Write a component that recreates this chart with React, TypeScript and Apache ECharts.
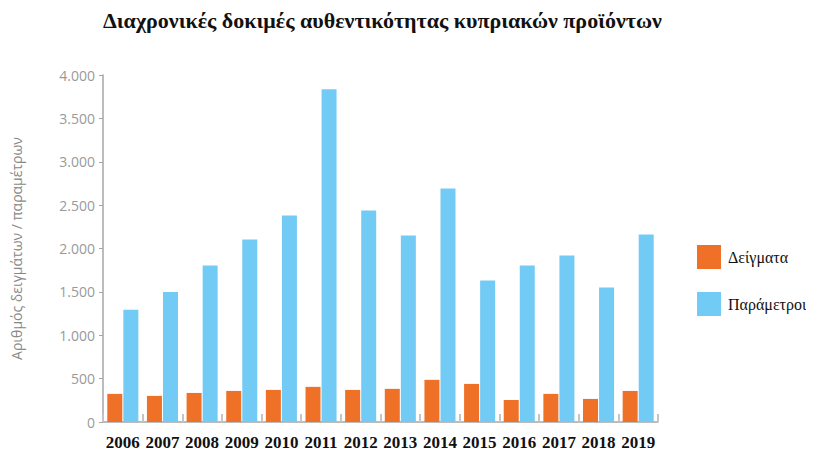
import React, { useEffect, useRef } from "react";
import * as echarts from "echarts";

const years = ["2006","2007","2008","2009","2010","2011","2012","2013","2014","2015","2016","2017","2018","2019"];
const samples = [324, 301, 335, 358, 370, 405, 370, 382, 486, 439, 254, 324, 266, 358];
const parameters = [1295, 1500, 1804, 2104, 2381, 3835, 2438, 2150, 2692, 1631, 1804, 1919, 1550, 2162];
const seriesNames = ["Δείγματα", "Παράμετροι"];
const titleText = "Διαχρονικές δοκιμές αυθεντικότητας κυπριακών προϊόντων";
const yAxisName = "Αριθμός δειγμάτων / παραμέτρων";

export default function App() {
  const ref = useRef<HTMLDivElement>(null);
  useEffect(() => {
    const chart = echarts.init(ref.current!, null, { renderer: "svg" });
    chart.setOption({
      animation: false,
      title: {
        text: titleText,
        left: 98,
        top: 4,
        textStyle: { fontFamily: "Liberation Serif", fontWeight: "bold", fontSize: 22, color: "#111" },
      },
      legend: {
        orient: "vertical",
        left: 697,
        top: 245,
        padding: 0,
        itemWidth: 24,
        itemHeight: 24,
        itemGap: 23,
        icon: "rect",
        textStyle: { fontFamily: "Liberation Serif", fontSize: 16, color: "#111", padding: [0, 0, 0, 2], width: 100, overflow: "none" },
        data: seriesNames,
      },
      grid: { left: 103, right: 156, top: 75, bottom: 37, containLabel: false },
      xAxis: {
        type: "category",
        data: years,
        axisLine: { show: true, lineStyle: { color: "#a6a6a6", width: 1.5 } },
        axisTick: { show: true, inside: true, length: 8, lineStyle: { color: "#c4c4c4", width: 2 } },
        axisLabel: {
          interval: 0,
          margin: 12,
          fontFamily: "Liberation Serif",
          fontWeight: "bold",
          fontSize: 17,
          color: "#111",
        },
      },
      yAxis: {
        type: "value",
        min: 0,
        max: 4000,
        interval: 500,
        name: yAxisName,
        nameLocation: "middle",
        nameGap: 80,
        nameTextStyle: { fontFamily: "Open Sans", fontSize: 14, color: "#888" },
        axisLine: { show: true, lineStyle: { color: "#a6a6a6", width: 1.5 } },
        axisTick: { show: true, length: 4, lineStyle: { color: "#a6a6a6" } },
        axisLabel: {
          margin: 8,
          fontFamily: "Open Sans",
          fontSize: 14,
          color: "#999",
          formatter: (v: number) => v.toLocaleString("de-DE"),
        },
        splitLine: {
          lineStyle: {
            color: "#a6a6a6",
            width: 1.5,
            shadowColor: "rgba(0,0,0,0.12)",
            shadowOffsetY: 2,
            shadowBlur: 1,
          },
        },
      },
      series: [
        {
          name: seriesNames[0],
          type: "bar",
          data: samples,
          itemStyle: { color: "#EE7127" },
          barWidth: 15,
          barGap: "7%",
        },
        {
          name: seriesNames[1],
          type: "bar",
          data: parameters,
          itemStyle: { color: "#72CBF4" },
          barWidth: 15,
          barGap: "7%",
        },
      ],
    });
    return () => chart.dispose();
  }, []);
  return <div ref={ref} style={{ width: 814, height: 459, margin: -8 }} />;
}
